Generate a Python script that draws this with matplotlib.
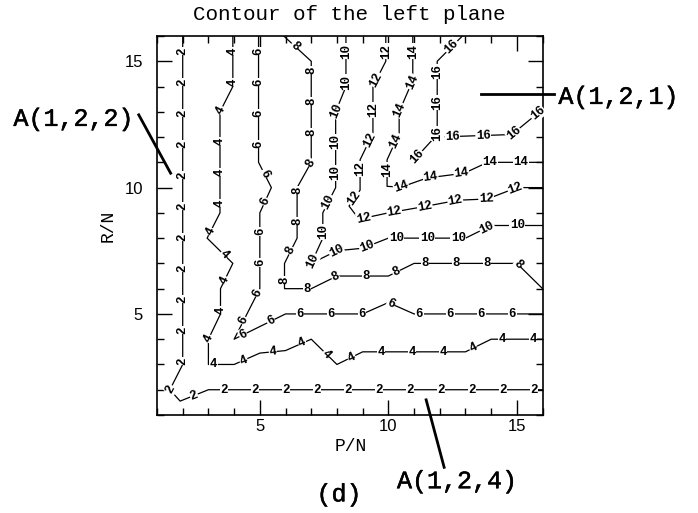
import matplotlib
matplotlib.use("Agg")
import matplotlib.pyplot as plt
import matplotlib.patheffects as pe
import numpy as np
from matplotlib.ticker import MultipleLocator, FixedLocator

# Contour polylines of the left plane, (P/N, R/N) vertices per level
p_2 = [2.0, 2.0, 1.5, 1.9, 3.0, 16.0]
r_2 = [16.0, 3.0, 2.0, 1.55, 2.0, 2.0]

p_4 = [3.95, 3.95, 3.45, 3.45, 2.95, 3.95, 3.47, 3.47, 3.0, 3.0, 4.0, 5.0, 6.0, 7.0, 8.0, 9.0, 13.0, 14.0, 16.0]
r_4 = [16.0, 14.0, 13.0, 9.0, 8.0, 7.0, 6.0, 5.0, 4.0, 3.0, 3.0, 3.45, 3.55, 4.0, 3.0, 3.5, 3.5, 4.0, 4.0]

p_6 = [4.95, 4.95, 5.45, 5.0, 5.0, 4.0, 6.0, 9.0, 10.0, 11.0, 16.0]
r_6 = [16.0, 11.0, 10.0, 9.0, 6.0, 4.0, 5.0, 5.0, 5.45, 5.0, 5.0]

p_8 = [5.93, 7.0, 7.0, 6.45, 6.45, 5.96, 5.96, 7.0, 8.0, 10.0, 11.0, 15.0, 16.0]
r_8 = [16.0, 15.0, 11.0, 10.0, 8.0, 7.0, 6.0, 6.0, 6.5, 6.5, 7.0, 7.0, 6.0]

p_10 = [8.35, 8.35, 7.95, 7.95, 7.45, 7.45, 7.0, 8.0, 9.0, 10.0, 13.0, 14.0, 16.0]
r_10 = [16.0, 14.0, 13.0, 10.0, 9.0, 8.0, 7.0, 7.5, 7.6, 8.0, 8.0, 8.5, 8.5]

p_12 = [9.9, 9.9, 9.4, 9.4, 8.9, 8.9, 8.47, 8.86, 10.0, 11.4, 12.7, 13.85, 15.0, 16.0]
r_12 = [16.0, 15.0, 14.0, 12.15, 11.1, 9.9, 9.27, 8.75, 9.0, 9.25, 9.5, 9.55, 10.0, 10.0]

p_14 = [10.95, 10.95, 10.42, 10.42, 9.95, 9.95, 10.5, 11.5, 12.95, 13.86, 16.0]
r_14 = [16.0, 14.25, 13.0, 12.15, 11.1, 10.05, 10.02, 10.38, 10.57, 11.0, 11.0]

p_16a = [12.88, 11.9, 11.9, 11.0]
r_16a = [16.0, 15.0, 12.1, 11.1]
p_16b = [11.9, 14.8, 16.0]
r_16b = [12.0, 12.1, 13.1]

contours = [
    (2, p_2, r_2),
    (4, p_4, r_4),
    (6, p_6, r_6),
    (8, p_8, r_8),
    (10, p_10, r_10),
    (12, p_12, r_12),
    (14, p_14, r_14),
    (16, p_16a, r_16a),
    (16, p_16b, r_16b),
]

x_ticks = [5, 10, 15]
y_ticks = [5, 10, 15]

MONO = "Liberation Mono"
SANS = "Liberation Sans"
medium = [pe.withStroke(linewidth=0.35, foreground="black")]

fig = plt.figure(figsize=(6.98, 5.13), dpi=100)
ax = fig.add_axes([157 / 698, 1 - 415 / 513, 385.6 / 698, 379 / 513])
ax.set_xlim(1, 16)
ax.set_ylim(1, 16)

for sp in ax.spines.values():
    sp.set_linewidth(1.2)

ax.xaxis.set_major_locator(FixedLocator(x_ticks))
ax.yaxis.set_major_locator(FixedLocator(y_ticks))
ax.xaxis.set_minor_locator(MultipleLocator(1))
ax.yaxis.set_minor_locator(MultipleLocator(1))
ax.tick_params(which="both", direction="in", top=True, right=True, width=1.0)
ax.tick_params(which="major", length=11)
ax.tick_params(which="minor", length=5)
ax.tick_params(axis="x", pad=3, labelsize=12)
ax.tick_params(axis="y", pad=10, labelsize=12)
for lab in ax.get_xticklabels() + ax.get_yticklabels():
    lab.set_family(SANS)


def label_line(p, r, level, spacing=31.0, offset=15.0):
    pts = ax.transData.transform(np.column_stack([p, r]))
    seg = np.diff(pts, axis=0)
    seglen = np.hypot(seg[:, 0], seg[:, 1])
    cum = np.concatenate([[0.0], np.cumsum(seglen)])
    total = cum[-1]
    inv = ax.transData.inverted()
    s = offset
    while s < total - 4:
        i = int(np.searchsorted(cum, s, side="right") - 1)
        i = min(max(i, 0), len(seg) - 1)
        if seglen[i] == 0:
            s += spacing
            continue
        t = (s - cum[i]) / seglen[i]
        xy = pts[i] + t * seg[i]
        ang = np.degrees(np.arctan2(seg[i, 1], seg[i, 0]))
        if ang > 90:
            ang -= 180
        elif ang <= -90:
            ang += 180
        dp = inv.transform(xy)
        ax.text(dp[0], dp[1], str(level), rotation=ang, rotation_mode="anchor",
                ha="center", va="center", fontsize=9, family=MONO, weight="bold",
                bbox=dict(fc="white", ec="none", pad=0.3), zorder=3)
        s += spacing


for level, p, r in contours:
    ax.plot(p, r, color="black", lw=0.9, zorder=2)
    label_line(p, r, level)

# titles and axis labels
fig.text(349 / 698, 1 - 15 / 513, "Contour of the left plane", ha="center", va="center",
         fontsize=15, family=MONO)
ax.text(0.502, -0.084, "P/N", transform=ax.transAxes, ha="center", va="center",
        fontsize=13, family=MONO)
ax.text(-0.127, 0.499, "R/N", transform=ax.transAxes, ha="center", va="center",
        rotation=90, fontsize=13, family=MONO)

# region annotations with leader lines
ax.plot([0.29, 1.53], [12.88, 10.57], color="black", lw=2, clip_on=False, zorder=4)
ax.text(-2.25, 12.72, "A(1,2,2)", ha="center", va="center", fontsize=18,
        family=MONO, path_effects=medium)

ax.plot([13.6, 16.45], [13.71, 13.71], color="black", lw=2, clip_on=False, zorder=4)
ax.text(18.95, 13.59, "A(1,2,1)", ha="center", va="center", fontsize=18,
        family=MONO, path_effects=medium)

ax.plot([11.47, 12.17], [1.6, -1.07], color="black", lw=2, clip_on=False, zorder=4)
ax.text(12.67, -1.62, "A(1,2,4)", ha="center", va="center", fontsize=18,
        family=MONO, path_effects=medium)

ax.text(8.08, -2.14, "(d)", ha="center", va="center", fontsize=18,
        family=MONO, path_effects=medium)

fig.savefig("out.png", dpi=100)
